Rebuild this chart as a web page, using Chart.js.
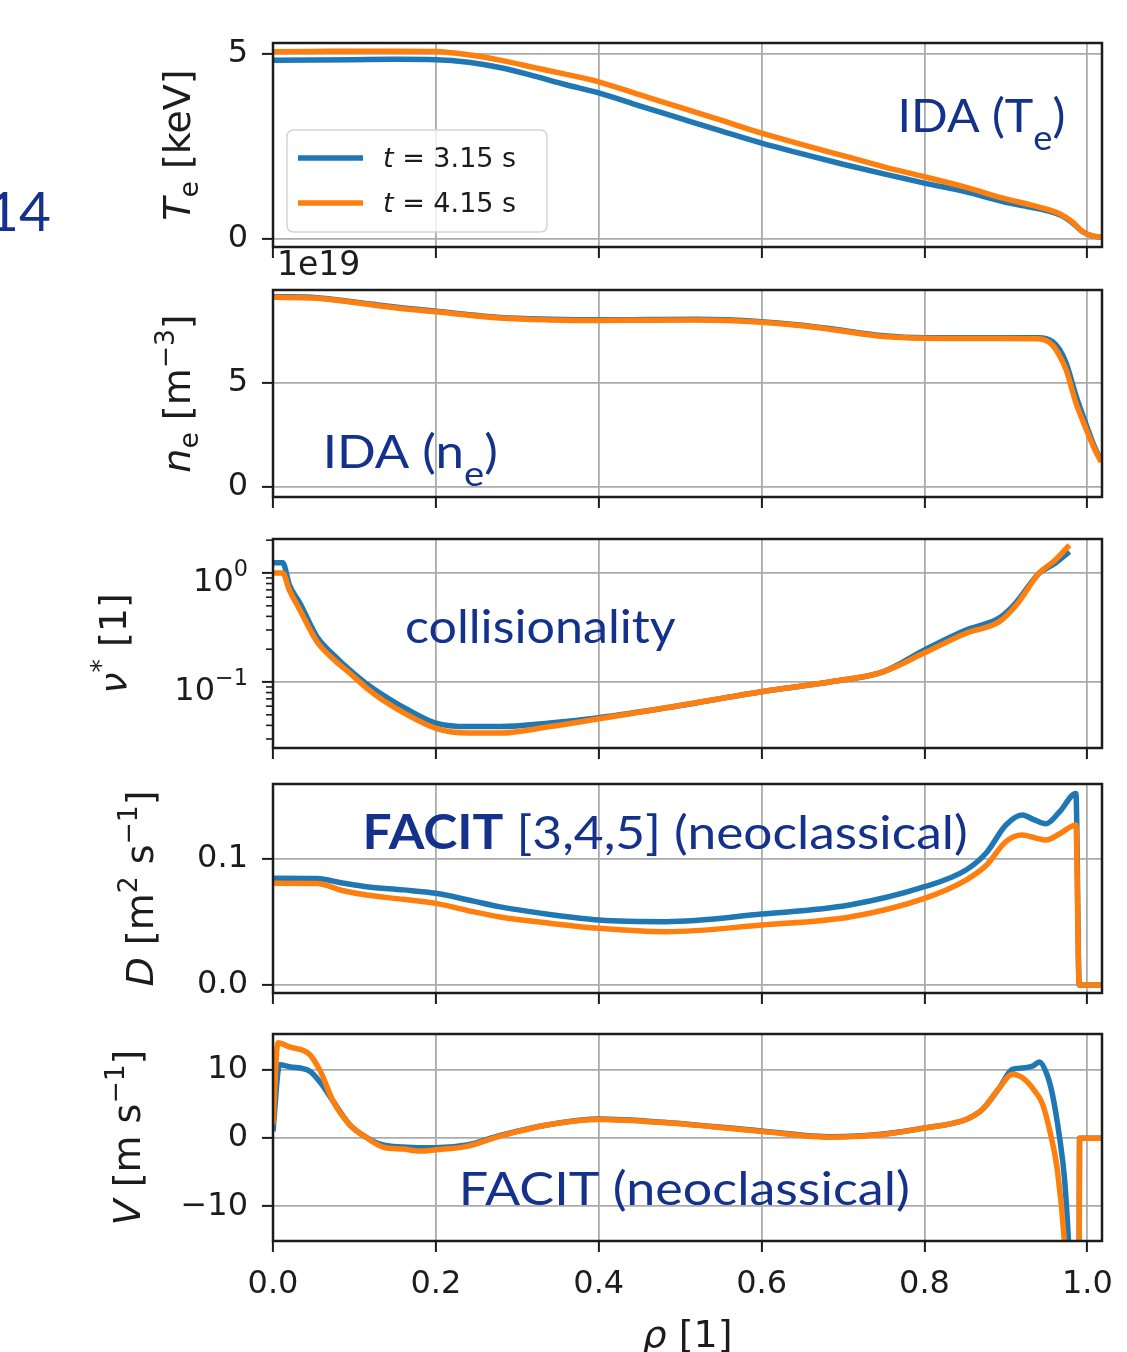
<!DOCTYPE html>
<html>
<head>
<meta charset="utf-8">
<script src="https://cdn.jsdelivr.net/npm/chart.js@4.4.1/dist/chart.umd.min.js"></script>
<style>
  html, body { margin: 0; padding: 0; background: #fff; }
  #page { position: relative; width: 1127px; height: 1352px; overflow: hidden; background: #fff; }
  #page canvas { position: absolute; left: 0; }
  .slideNum { position: absolute; left: -13px; top: 183px; font: 400 55px Lato, sans-serif; line-height: 1; color: #14328c; }
</style>
</head>
<body>
<div id="page">
  <div class="slideNum">14</div>
</div>
<script>
// ---- data ----
const legendTimes = ['3.15', '4.15'];

const rhoTicks = [0, 0.2, 0.4, 0.6, 0.8, 1.0];
const rhoTickLabels = ['0.0', '0.2', '0.4', '0.6', '0.8', '1.0'];

// T_e [keV]
const rhoTe = [0, 0.05, 0.1, 0.15, 0.2, 0.24, 0.28, 0.32, 0.36, 0.4, 0.45, 0.5, 0.55, 0.6, 0.65, 0.7, 0.75, 0.8, 0.85, 0.9, 0.93, 0.966, 0.982, 0.994, 1.006, 1.017];
const te315 = [4.83, 4.84, 4.85, 4.86, 4.85, 4.78, 4.63, 4.41, 4.17, 3.95, 3.60, 3.26, 2.92, 2.59, 2.30, 2.02, 1.76, 1.51, 1.28, 0.99, 0.86, 0.65, 0.43, 0.20, 0.08, 0.05];
const te415 = [5.06, 5.07, 5.08, 5.08, 5.07, 4.98, 4.83, 4.64, 4.45, 4.25, 3.90, 3.56, 3.21, 2.86, 2.55, 2.25, 1.95, 1.68, 1.40, 1.08, 0.92, 0.68, 0.45, 0.20, 0.08, 0.05];
const teTicks = [0, 5];
const teTickLabels = ['0', '5'];

// n_e [1e19 m^-3]
const rhoNe = [0, 0.054, 0.1, 0.15, 0.2, 0.28, 0.34, 0.4, 0.46, 0.52, 0.6, 0.65, 0.69, 0.75, 0.8, 0.85, 0.9, 0.94, 0.957, 0.966, 0.974, 0.986, 0.999, 1.008, 1.017];
const ne315 = [9.15, 9.10, 8.90, 8.65, 8.45, 8.15, 8.07, 8.04, 8.05, 8.06, 7.95, 7.78, 7.58, 7.27, 7.18, 7.18, 7.18, 7.18, 7.00, 6.60, 5.95, 4.40, 2.95, 2.00, 1.25];
const ne415 = [9.12, 9.07, 8.87, 8.62, 8.42, 8.12, 8.03, 8.00, 8.02, 8.03, 7.92, 7.75, 7.55, 7.23, 7.15, 7.14, 7.14, 7.13, 6.83, 6.30, 5.63, 4.04, 2.74, 1.90, 1.20];
const neTicks = [0, 5];
const neTickLabels = ['0', '5'];

// collisionality nu* [1]
const rhoNu = [0, 0.012, 0.02, 0.033, 0.054, 0.075, 0.094, 0.115, 0.135, 0.165, 0.2, 0.24, 0.279, 0.34, 0.4, 0.483, 0.6, 0.687, 0.749, 0.8, 0.851, 0.892, 0.912, 0.941, 0.96, 0.978];
const nu315 = [1.24, 1.24, 0.78, 0.53, 0.26, 0.175, 0.129, 0.096, 0.076, 0.056, 0.042, 0.039, 0.039, 0.042, 0.047, 0.058, 0.0815, 0.101, 0.124, 0.197, 0.30, 0.387, 0.53, 1.0, 1.22, 1.57];
const nu415 = [1.0, 1.0, 0.70, 0.458, 0.234, 0.16, 0.121, 0.088, 0.068, 0.05, 0.0376, 0.034, 0.034, 0.039, 0.046, 0.058, 0.0815, 0.101, 0.124, 0.185, 0.28, 0.358, 0.5, 1.0, 1.3, 1.8];
const nuTicks = [0.1, 1];
const nuTickBase = ['10', '10'];
const nuTickExp = ['\u22121', '0'];
const nuMinorTicks = [0.03, 0.04, 0.05, 0.06, 0.07, 0.08, 0.09, 0.2, 0.3, 0.4, 0.5, 0.6, 0.7, 0.8, 0.9, 2];

// D [m^2 s^-1]
const rhoD = [0, 0.054, 0.085, 0.115, 0.16, 0.2, 0.24, 0.279, 0.34, 0.4, 0.483, 0.6, 0.708, 0.8, 0.851, 0.876, 0.9, 0.92, 0.935, 0.949, 0.966, 0.986, 0.99, 1.0, 1.017];
const d315 = [0.0847, 0.0845, 0.081, 0.078, 0.0755, 0.0728, 0.0675, 0.062, 0.056, 0.0516, 0.0503, 0.0563, 0.0635, 0.078, 0.0913, 0.105, 0.127, 0.135, 0.131, 0.128, 0.1375, 0.152, 0, 0, 0];
const d415 = [0.0807, 0.0805, 0.075, 0.0714, 0.068, 0.0648, 0.059, 0.054, 0.049, 0.045, 0.0423, 0.0476, 0.054, 0.0688, 0.0833, 0.095, 0.1138, 0.119, 0.117, 0.115, 0.12, 0.127, 0, 0, 0];
const dTicks = [0, 0.1];
const dTickLabels = ['0.0', '0.1'];

// V [m s^-1]
const rhoV315 = [0, 0.008, 0.02, 0.045, 0.058, 0.074, 0.094, 0.115, 0.135, 0.16, 0.18, 0.2, 0.238, 0.279, 0.34, 0.4, 0.483, 0.6, 0.687, 0.749, 0.8, 0.851, 0.871, 0.892, 0.908, 0.92, 0.933, 0.941, 0.95, 0.957, 0.966, 0.972, 0.977, 0.984, 0.9895, 0.9905, 1.017];
const v315 = [1, 10.8, 10.5, 9.85, 8.2, 5.4, 2.0, 0.1, -1.0, -1.3, -1.4, -1.4, -1.0, 0.4, 2.0, 2.8, 2.3, 1.05, 0.2, 0.6, 1.5, 2.75, 4.2, 7.4, 10.1, 10.3, 10.6, 11.2, 9.5, 6.5, 0, -6, -15.5, -35, -35, 0, 0];
const rhoV415 = [0, 0.006, 0.02, 0.045, 0.058, 0.074, 0.094, 0.115, 0.135, 0.16, 0.18, 0.2, 0.238, 0.279, 0.34, 0.4, 0.483, 0.6, 0.687, 0.749, 0.8, 0.851, 0.871, 0.892, 0.908, 0.92, 0.935, 0.945, 0.955, 0.963, 0.972, 0.98, 0.9895, 0.9905, 1.017];
const v415 = [2, 14.0, 13.4, 12.3, 9.85, 5.4, 2.0, 0.05, -1.3, -1.6, -1.9, -1.7, -1.2, 0.3, 2.0, 2.75, 2.25, 1.0, 0.15, 0.55, 1.5, 2.75, 4.2, 7.4, 9.4, 8.9, 7.0, 5.0, 0.5, -4.5, -15.5, -35, -35, 0, 0];
const vTicks = [-10, 0, 10];
const vTickLabels = ['\u221210', '0', '10'];

// ---- styling ----
const BLUE = '#1f77b4', ORANGE = '#ff7f0e';
const INK = '#1c1c1c', GRID = '#ababab', NOTE = '#14328c';
const AXIS_FONT = 'DejaVu Sans', NOTE_FONT = 'Lato';
const TICK_SIZE = 32, TITLE_SIZE = 38, NOTE_SIZE = 47;
const AREA_LEFT = 273, AREA_RIGHT = 1102, PAGE_W = 1127;
const RHO_MAX = 1.018;

function pts(xs, ys) {
  return xs.map((x, i) => ({ x: x, y: ys[i] }));
}

// mixed italic / sub / sup text on the canvas
function segFont(seg, size, family, weight) {
  const s = seg.s ? size * (seg.k || 0.7) : size;
  return (seg.i ? 'italic ' : '') + (seg.b ? 'bold ' : (weight || '')) + ' ' + s + 'px "' + family + '"';
}
function richWidth(ctx, segs, size, family, weight) {
  let w = 0;
  segs.forEach(seg => { ctx.font = segFont(seg, size, family, weight); w += ctx.measureText(seg.t).width; });
  return w;
}
function drawRich(ctx, segs, x, y, size, family, color, weight) {
  ctx.fillStyle = color;
  ctx.textAlign = 'left';
  ctx.textBaseline = 'alphabetic';
  let cx = x;
  segs.forEach(seg => {
    ctx.font = segFont(seg, size, family, weight);
    let dy = 0;
    if (seg.s === 'sub') dy = size * (seg.dy || 0.2);
    if (seg.s === 'sup') dy = -size * (seg.dy || 0.42);
    ctx.fillText(seg.t, cx, y + dy);
    cx += ctx.measureText(seg.t).width;
  });
}
function roundBox(ctx, x, y, w, h, r) {
  ctx.beginPath();
  ctx.moveTo(x + r, y);
  ctx.lineTo(x + w - r, y); ctx.quadraticCurveTo(x + w, y, x + w, y + r);
  ctx.lineTo(x + w, y + h - r); ctx.quadraticCurveTo(x + w, y + h, x + w - r, y + h);
  ctx.lineTo(x + r, y + h); ctx.quadraticCurveTo(x, y + h, x, y + h - r);
  ctx.lineTo(x, y + r); ctx.quadraticCurveTo(x, y, x + r, y);
  ctx.closePath();
}

const panels = [
  {
    id: 'pTe', top: 43, bottom: 247, padTop: 40, below: 20,
    r315: rhoTe, y315: te315, r415: rhoTe, y415: te415,
    min: -0.22, max: 5.3, ticks: teTicks, labels: teTickLabels,
    title: [{ t: 'T', i: 1 }, { t: 'e', s: 'sub' }, { t: ' [keV]' }], titleX: 190,
    notes: [{ segs: [{ t: 'IDA (T' }, { t: 'e', s: 'sub', k: 0.75, dy: 0.38 }, { t: ')' }], x: 0.767, x1: 0.973, y: 2.9 }],
    legend: true
  },
  {
    id: 'pNe', top: 290, bottom: 497, padTop: 50, below: 20,
    r315: rhoNe, y315: ne315, r415: rhoNe, y415: ne415,
    min: -0.48, max: 9.47, ticks: neTicks, labels: neTickLabels,
    title: [{ t: 'n', i: 1 }, { t: 'e', s: 'sub' }, { t: ' [m' }, { t: '\u22123', s: 'sup' }, { t: ']' }], titleX: 190,
    notes: [{ segs: [{ t: 'IDA (n' }, { t: 'e', s: 'sub', k: 0.75, dy: 0.38 }, { t: ')' }], x: 0.061, x1: 0.276, y: 0.91 }],
    offsetText: '1e19'
  },
  {
    id: 'pNu', top: 539, bottom: 748, padTop: 30, below: 20, log: true,
    r315: rhoNu, y315: nu315, r415: rhoNu, y415: nu415,
    min: 0.0248, max: 2.05, ticks: nuTicks, labels: nuTickBase, minor: nuMinorTicks,
    title: [{ t: '\u03BD', i: 1 }, { t: '*', s: 'sup' }, { t: ' [1]' }], titleX: 126,
    notes: [{ segs: [{ t: 'collisionality' }], x: 0.162, x1: 0.4945, y: 0.228 }]
  },
  {
    id: 'pD', top: 784, bottom: 993, padTop: 30, below: 20,
    r315: rhoD, y315: d315, r415: rhoD, y415: d415,
    min: -0.0063, max: 0.1595, ticks: dTicks, labels: dTickLabels,
    title: [{ t: 'D', i: 1 }, { t: ' [m' }, { t: '2', s: 'sup' }, { t: ' s' }, { t: '\u22121', s: 'sup' }, { t: ']' }], titleX: 153,
    notes: [{ segs: [{ t: 'FACIT', b: 1 }, { t: ' [3,4,5] (neoclassical)' }], x: 0.110, x1: 0.853, y: 0.108 }]
  },
  {
    id: 'pV', top: 1034, bottom: 1241, padTop: 30, below: 111,
    r315: rhoV315, y315: v315, r415: rhoV415, y415: v415,
    min: -15.1, max: 15.3, ticks: vTicks, labels: vTickLabels,
    title: [{ t: 'V', i: 1 }, { t: ' [m s' }, { t: '\u22121', s: 'sup' }, { t: ']' }], titleX: 140,
    notes: [{ segs: [{ t: 'FACIT (neoclassical)' }], x: 0.228, x1: 0.782, y: -9.75 }],
    xLabels: true, xTitle: [{ t: '\u03C1', i: 1 }, { t: ' [1]' }]
  }
];

function decor(p) {
  return {
    id: 'decor',
    afterDatasetsDraw(chart) {
      const { ctx, chartArea: a, scales } = chart;
      ctx.save();
      ctx.strokeStyle = INK;
      if (p.minor) {
        ctx.lineWidth = 1.6;
        p.minor.forEach(v => {
          const py = scales.y.getPixelForValue(v);
          if (py < a.top - 1 || py > a.bottom + 1) return;
          ctx.beginPath(); ctx.moveTo(a.left - 7, py); ctx.lineTo(a.left, py); ctx.stroke();
        });
      }
      ctx.lineWidth = 2.5;
      ctx.strokeRect(a.left, a.top, a.right - a.left, a.bottom - a.top);
      ctx.restore();
    },
    afterDraw(chart) {
      const { ctx, chartArea: a, scales } = chart;
      ctx.save();

      // log-axis labels as 10 with a raised exponent
      if (p.log) {
        p.ticks.forEach((v, i) => {
          const py = scales.y.getPixelForValue(v);
          const segs = [{ t: nuTickBase[i] }, { t: nuTickExp[i], s: 'sup', k: 0.7, dy: 0.46 }];
          const w = richWidth(ctx, segs, TICK_SIZE, AXIS_FONT);
          drawRich(ctx, segs, a.left - 11 - 14 - w, py + 18, TICK_SIZE, AXIS_FONT, INK);
        });
      }

      // y axis title, rotated
      ctx.save();
      ctx.translate(p.titleX, (a.top + a.bottom) / 2);
      ctx.rotate(-Math.PI / 2);
      const tw = richWidth(ctx, p.title, TITLE_SIZE, AXIS_FONT);
      drawRich(ctx, p.title, -tw / 2, 0, TITLE_SIZE, AXIS_FONT, INK);
      ctx.restore();

      // blue slide notes, placed in data coordinates
      (p.notes || []).forEach(n => {
        const x0 = scales.x.getPixelForValue(n.x);
        const x1 = scales.x.getPixelForValue(n.x1);
        const y0 = scales.y.getPixelForValue(n.y);
        const w = richWidth(ctx, n.segs, NOTE_SIZE, NOTE_FONT, '400');
        ctx.save();
        ctx.translate(x0, y0);
        ctx.scale((x1 - x0) / w, 1);
        drawRich(ctx, n.segs, 0, 0, NOTE_SIZE, NOTE_FONT, NOTE, '400');
        ctx.restore();
      });

      if (p.legend) {
        const lx = a.left + 14, ly = a.top + 87, lw = 260, lh = 102;
        roundBox(ctx, lx, ly, lw, lh, 7);
        ctx.fillStyle = 'rgba(255,255,255,0.8)';
        ctx.fill();
        ctx.strokeStyle = '#d4d4d4';
        ctx.lineWidth = 1.5;
        ctx.stroke();
        [BLUE, ORANGE].forEach((col, i) => {
          const yy = ly + 28 + i * 45;
          ctx.strokeStyle = col; ctx.lineWidth = 5.5;
          ctx.beginPath(); ctx.moveTo(lx + 11, yy); ctx.lineTo(lx + 76, yy); ctx.stroke();
          drawRich(ctx, [{ t: 't', i: 1 }, { t: ' = ' + legendTimes[i] + ' s' }], lx + 96, yy + 9, 27, AXIS_FONT, INK);
        });
      }

      if (p.offsetText) {
        ctx.font = '33px "' + AXIS_FONT + '"';
        ctx.fillStyle = INK; ctx.textAlign = 'left'; ctx.textBaseline = 'alphabetic';
        ctx.fillText(p.offsetText, a.left + 4, a.top - 15);
      }

      if (p.xTitle) {
        const w = richWidth(ctx, p.xTitle, TITLE_SIZE, AXIS_FONT);
        drawRich(ctx, p.xTitle, (a.left + a.right) / 2 - w / 2, a.bottom + 106, TITLE_SIZE, AXIS_FONT, INK);
      }
      ctx.restore();
    }
  };
}

const page = document.getElementById('page');

panels.forEach(p => {
  const cv = document.createElement('canvas');
  cv.width = PAGE_W;
  cv.height = p.padTop + (p.bottom - p.top) + p.below;
  cv.style.top = (p.top - p.padTop) + 'px';
  page.appendChild(cv);

  new Chart(cv, {
    type: 'line',
    data: {
      datasets: [
        { label: 't = 4.15 s', data: pts(p.r415, p.y415), borderColor: ORANGE, order: 0 },
        { label: 't = 3.15 s', data: pts(p.r315, p.y315), borderColor: BLUE, order: 1 }
      ]
    },
    options: {
      responsive: false,
      animation: false,
      devicePixelRatio: 1,
      layout: { padding: { top: p.padTop, right: PAGE_W - AREA_RIGHT, left: 0, bottom: 0 } },
      plugins: { legend: { display: false }, tooltip: { enabled: false } },
      elements: {
        point: { radius: 0 },
        line: { borderWidth: 5.5, cubicInterpolationMode: 'monotone', fill: false }
      },
      scales: {
        x: {
          type: 'linear', min: 0, max: RHO_MAX, bounds: 'data',
          afterBuildTicks: s => { s.ticks = rhoTicks.map(v => ({ value: v })); },
          afterFit: s => { s.height = p.below; s.paddingLeft = 0; s.paddingRight = 0; },
          border: { display: false },
          grid: { color: GRID, lineWidth: 1.8, drawTicks: true, tickLength: 11, tickColor: INK, tickWidth: 2 },
          ticks: {
            display: !!p.xLabels, padding: 13, maxRotation: 0, autoSkip: false,
            color: INK, font: { family: AXIS_FONT, size: TICK_SIZE },
            callback: (v, i) => rhoTickLabels[i]
          }
        },
        y: {
          type: p.log ? 'logarithmic' : 'linear', min: p.min, max: p.max, bounds: 'data',
          afterBuildTicks: s => { s.ticks = p.ticks.map(v => ({ value: v })); },
          afterFit: s => { s.width = AREA_LEFT; s.paddingTop = 0; s.paddingBottom = 0; },
          border: { display: false },
          grid: { color: GRID, lineWidth: 1.8, drawTicks: true, tickLength: 11, tickColor: INK, tickWidth: 2 },
          ticks: {
            display: !p.log, padding: 14, autoSkip: false,
            color: INK, font: { family: AXIS_FONT, size: TICK_SIZE },
            callback: (v, i) => p.labels[i]
          }
        }
      }
    },
    plugins: [decor(p)]
  });
});
</script>
</body>
</html>
